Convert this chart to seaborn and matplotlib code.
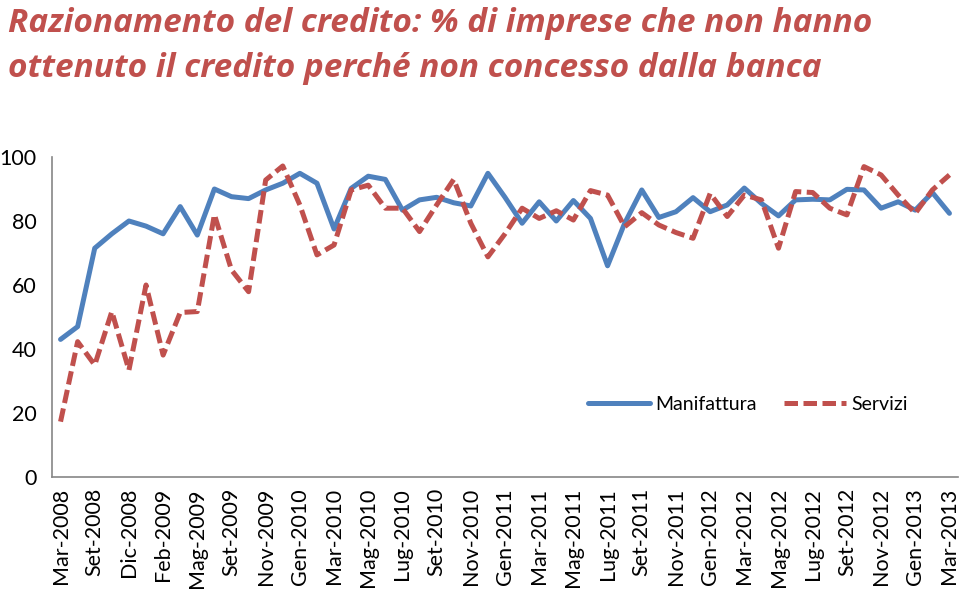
import matplotlib
matplotlib.use("Agg")
import matplotlib.pyplot as plt
import seaborn as sns
import pandas as pd
import numpy as np

tick_labels = ["Mar-2008", "Set-2008", "Dic-2008", "Feb-2009", "Mag-2009", "Set-2009",
               "Nov-2009", "Gen-2010", "Mar-2010", "Mag-2010", "Lug-2010", "Set-2010",
               "Nov-2010", "Gen-2011", "Mar-2011", "Mag-2011", "Lug-2011", "Set-2011",
               "Nov-2011", "Gen-2012", "Mar-2012", "Mag-2012", "Lug-2012", "Set-2012",
               "Nov-2012", "Gen-2013", "Mar-2013"]

manifattura = [43, 47, 71.5, 76, 80, 78.4, 76, 84.5, 75.6, 90, 87.6, 87, 89.7,
               91.8, 94.9, 91.8, 77.5, 90.2, 94, 93, 83.4, 86.6, 87.4, 85.7, 84.7,
               94.9, 87.4, 79.3, 86, 80, 86.4, 80.8, 66, 79.3, 89.7, 81.1, 82.9,
               87.3, 82.9, 85, 90.3, 85.5, 81.6, 86.6, 86.8, 86.6, 89.9, 89.7, 84,
               86, 83.4, 88.9, 82.4]
servizi = [17.3, 42.3, 35, 51.7, 33.4, 60, 38.1, 51.4, 51.7, 82, 64.7, 57.9, 92.8,
           97.2, 85, 69.4, 72.5, 89.7, 91.2, 84, 84, 76.7, 85, 93, 79.3, 68.8, 76,
           84, 80.8, 83.2, 80.3, 89.5, 88.1, 78.2, 82.6, 78.75, 76.4, 74.6, 88.6,
           81.4, 88.1, 86.6, 71.5, 89.2, 88.9, 84, 81.9, 97, 94.4, 88.1, 82.4, 89.7,
           94.4]

n = len(manifattura)
idx = np.arange(n)
df = pd.concat([
    pd.DataFrame({"idx": idx, "val": manifattura, "serie": "Manifattura"}),
    pd.DataFrame({"idx": idx, "val": servizi, "serie": "Servizi"}),
])

sns.set_theme(style="white")
plt.rcParams['font.family'] = ['Lato', 'DejaVu Sans']

fig = plt.figure(figsize=(9.6, 6.06), dpi=100)
ax = fig.add_axes([52/960, (606-477)/606, (958-52)/960, (477-157)/606])

blue = "#4F81BD"
red = "#C0504D"
sns.lineplot(data=df, x="idx", y="val", hue="serie", style="serie",
             palette={"Manifattura": blue, "Servizi": red},
             dashes={"Manifattura": "", "Servizi": (2.7, 1.1)},
             linewidth=3.6, ax=ax, legend=True)

ax.set_xlim(-0.5, n - 0.5)
ax.set_ylim(0, 100)
ax.set_yticks([0, 20, 40, 60, 80, 100])
ax.set_xticks(idx[::2])
ax.set_xticklabels(tick_labels, rotation=90, fontsize=15.5)
ax.set_xticks(np.arange(-0.5, n, 1), minor=True)
ax.tick_params(axis="x", which="major", length=0, pad=8, labelcolor="black")
ax.tick_params(axis="x", which="minor", length=6, color="#868686", width=1.2, direction="out")
ax.tick_params(axis="y", length=7, color="#868686", width=1.2, direction="out",
               labelsize=15.5, pad=4, labelcolor="black")
ax.set_xlabel("")
ax.set_ylabel("")
for s in ["top", "right"]:
    ax.spines[s].set_visible(False)
for s in ["left", "bottom"]:
    ax.spines[s].set_color("#868686")
    ax.spines[s].set_linewidth(1.2)

leg = ax.legend(loc="center left", bbox_to_anchor=((588-52)/906, (477-404)/320),
                frameon=False, ncol=2, fontsize=14, handlelength=3.2,
                columnspacing=1.4, handletextpad=0.25, borderpad=0, borderaxespad=0)
for h in leg.get_lines():
    h.set_linewidth(3.6)
for t in leg.get_texts():
    t.set_color("black")

title_font = dict(family=["Open Sans", "DejaVu Sans"], fontsize=24, fontweight="bold",
                  fontstyle="italic", color=red, va="baseline")
fig.text(8/960, 1 - 32/606, "Razionamento del credito: % di imprese che non hanno", **title_font)
fig.text(8/960, 1 - 77/606, "ottenuto il credito perché non concesso dalla banca", **title_font)

fig.savefig("out.png", dpi=100)
